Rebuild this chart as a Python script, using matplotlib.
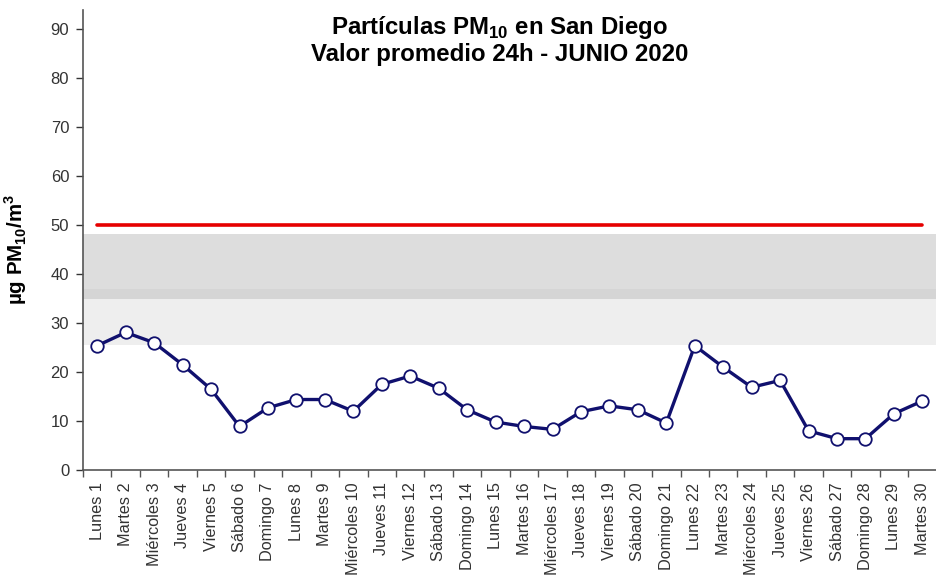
import matplotlib
matplotlib.use("Agg")
import matplotlib.pyplot as plt
import numpy as np

plt.rcParams["font.family"] = ["Liberation Sans", "DejaVu Sans"]
plt.rcParams["mathtext.fontset"] = "custom"
plt.rcParams["mathtext.rm"] = "Liberation Sans"
plt.rcParams["mathtext.bf"] = "Liberation Sans:bold"

# Data
days = ["Lunes 1", "Martes 2", "Miércoles 3", "Jueves 4", "Viernes 5", "Sábado 6",
        "Domingo 7", "Lunes 8", "Martes 9", "Miércoles 10", "Jueves 11", "Viernes 12",
        "Sábado 13", "Domingo 14", "Lunes 15", "Martes 16", "Miércoles 17", "Jueves 18",
        "Viernes 19", "Sábado 20", "Domingo 21", "Lunes 22", "Martes 23", "Miércoles 24",
        "Jueves 25", "Viernes 26", "Sábado 27", "Domingo 28", "Lunes 29", "Martes 30"]
pm10 = [25.4, 28.1, 26.0, 21.5, 16.5, 8.9, 12.7, 14.4, 14.4, 12.0, 17.5, 19.2,
        16.7, 12.3, 9.8, 8.9, 8.3, 11.9, 13.1, 12.3, 9.6, 25.4, 21.0, 16.9,
        18.3, 8.0, 6.4, 6.4, 11.5, 14.1]
limit = 50
band_low = (25.5, 37.0)
band_high = (35.0, 48.2)
yticks = [0, 10, 20, 30, 40, 50, 60, 70, 80, 90]

x = np.arange(len(days))

fig = plt.figure(figsize=(9.37, 5.76), dpi=100)
ax = fig.add_axes([0.0886, 0.184, 0.911, 0.799])

# shaded bands (overlap gives the darker stripe)
ax.axhspan(*band_low, color="#c8c8c8", alpha=0.3, lw=0, zorder=0)
ax.axhspan(*band_high, color="#bdbdbd", alpha=0.5, lw=0, zorder=0)

ax.plot([x[0], x[-1]], [limit, limit], color="#e60000", lw=2.6,
        solid_capstyle="round", zorder=2)

ax.plot(x, pm10, color="#10106e", lw=2.4, marker="o", markersize=9,
        markerfacecolor="white", markeredgecolor="#10106e", markeredgewidth=1.3,
        zorder=3)

ax.set_xlim(-0.5, len(days) - 0.5)
ax.set_ylim(0, 94)
ax.set_yticks(yticks)
ax.tick_params(axis="y", labelsize=12, colors="#333333", length=5, width=1,
               direction="out", pad=5)

ax.set_xticks(np.arange(-0.5, len(days)), minor=False)
ax.set_xticklabels([])
ax.set_xticks(x, minor=True)
ax.set_xticklabels(days, minor=True, rotation=90, fontsize=11.7, color="#333333")
ax.tick_params(axis="x", which="major", length=5, width=1, colors="#555555")
ax.tick_params(axis="x", which="minor", length=0, pad=9)

for s in ["top", "right"]:
    ax.spines[s].set_visible(False)
for s in ["left", "bottom"]:
    ax.spines[s].set_color("#555555")
    ax.spines[s].set_linewidth(1.2)

ax.set_ylabel(r"µg PM$_\mathbf{10}$/m$^\mathbf{3}$", fontsize=14.8, fontweight="bold")
ax.yaxis.set_label_coords(-0.063, 0.48)

ax.text(0.488, 0.99, "Partículas PM$_\\mathbf{10}$ en San Diego\nValor promedio 24h - JUNIO 2020",
        transform=ax.transAxes, ha="center", va="top", fontsize=17.3,
        fontweight="bold", linespacing=1.1)

fig.savefig("out.png", dpi=100)
